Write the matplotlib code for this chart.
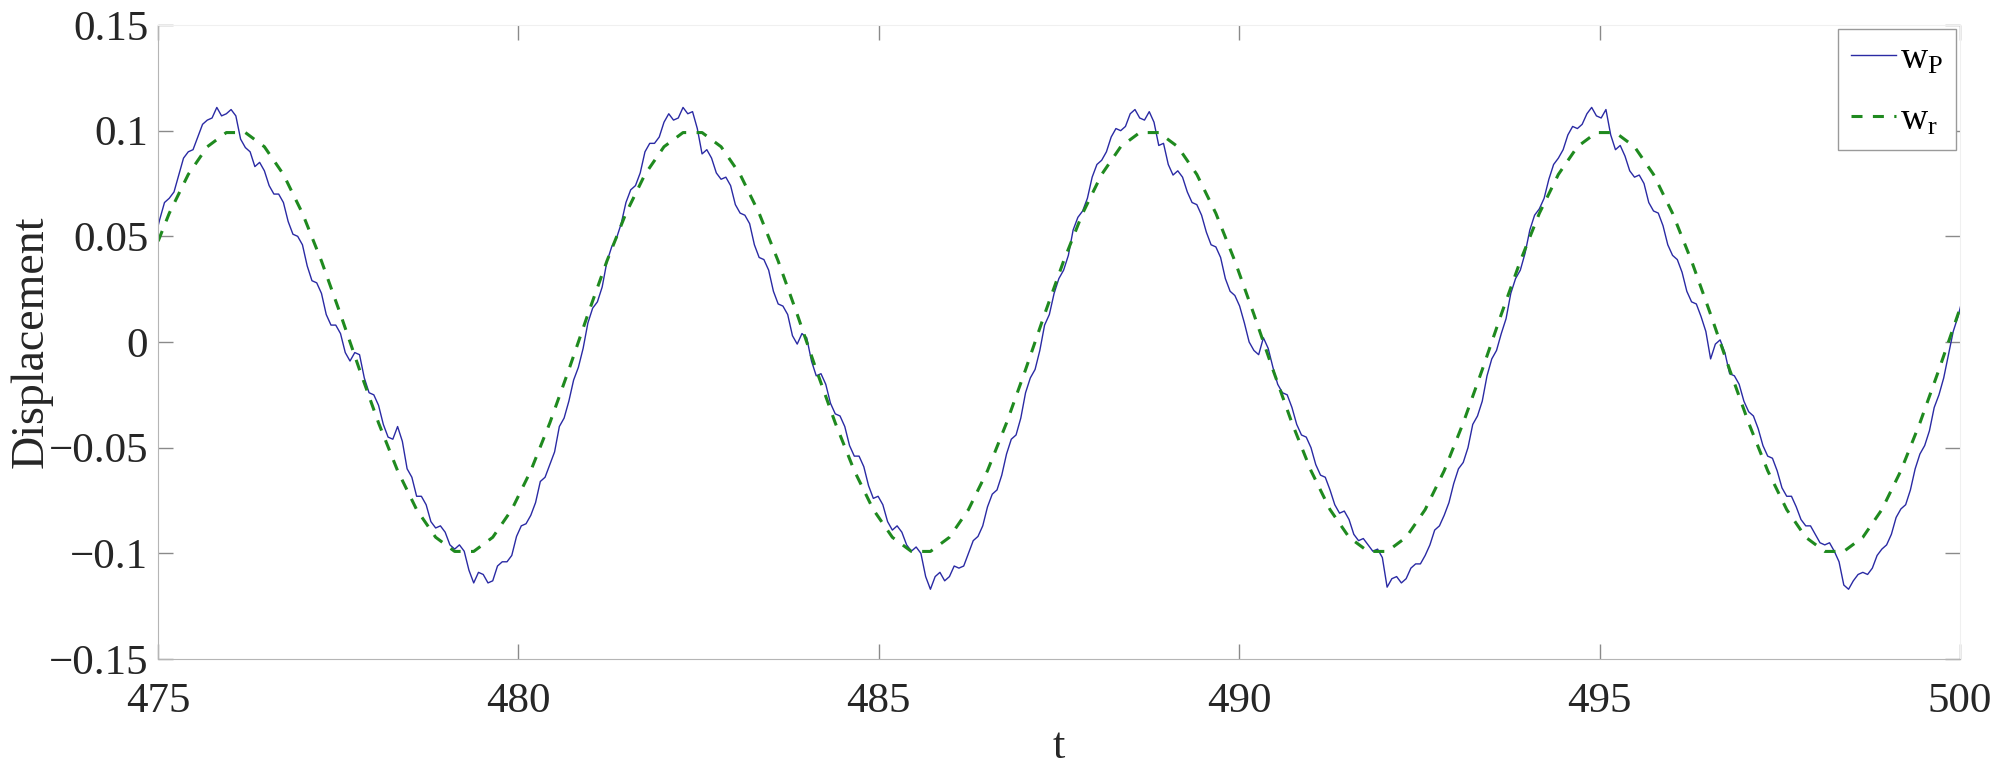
import numpy as np
import matplotlib
matplotlib.use('Agg')
import matplotlib.pyplot as plt

# tempos de amostragem (uniformes) e valores
t_ref = np.linspace(474.892, 500.236, 97)
w_ref = [0.0383, 0.0609, 0.0793, 0.0924, 0.0991,
         0.0991, 0.0924, 0.0793, 0.0609, 0.0383, 0.0131, -0.0131, -0.0383, -0.0609, -0.0793, -0.0924, -0.0991,
         -0.0991, -0.0924, -0.0793, -0.0609, -0.0383, -0.0131, 0.0131, 0.0383, 0.0609, 0.0793, 0.0924, 0.0991,
         0.0991, 0.0924, 0.0793, 0.0609, 0.0383, 0.0131, -0.0131, -0.0383, -0.0609, -0.0793, -0.0924, -0.0991,
         -0.0991, -0.0924, -0.0793, -0.0609, -0.0383, -0.0131, 0.0131, 0.0383, 0.0609, 0.0793, 0.0924, 0.0991,
         0.0991, 0.0924, 0.0793, 0.0609, 0.0383, 0.0131, -0.0131, -0.0383, -0.0609, -0.0793, -0.0924, -0.0991,
         -0.0991, -0.0924, -0.0793, -0.0609, -0.0383, -0.0131, 0.0131, 0.0383, 0.0609, 0.0793, 0.0924, 0.0991,
         0.0991, 0.0924, 0.0793, 0.0609, 0.0383, 0.0131, -0.0131, -0.0383, -0.0609, -0.0793, -0.0924, -0.0991,
         -0.0991, -0.0924, -0.0793, -0.0609, -0.0383, -0.0131, 0.0131, 0.0383]

# w_P nos instantes t_pos
t_pos = np.linspace(474.892, 500.104, 192)
w_pos = [0.044, 0.058, 0.068, 0.079, 0.090, 0.097, 0.105, 0.111, 0.108,
         # ciclo 1
         0.107, 0.092, 0.083, 0.081, 0.070, 0.066, 0.051, 0.046, 0.029, 0.023, 0.008, 0.004,
         -0.009, -0.006, -0.024, -0.030, -0.045, -0.040, -0.060, -0.073, -0.077, -0.088, -0.090, -0.098,
         -0.099, -0.114, -0.110, -0.113, -0.104, -0.101, -0.087, -0.082, -0.066, -0.058, -0.040, -0.028,
         -0.012, 0.009, 0.019, 0.038, 0.049, 0.066, 0.074, 0.090, 0.094, 0.104, 0.105, 0.111,
         # ciclo 2
         0.109, 0.089, 0.087, 0.077, 0.074, 0.061, 0.056, 0.040, 0.034, 0.018, 0.013, -0.001,
         0.002, -0.016, -0.020, -0.034, -0.040, -0.054, -0.059, -0.074, -0.077, -0.089, -0.090, -0.099,
         -0.100, -0.117, -0.109, -0.111, -0.107, -0.100, -0.092, -0.078, -0.070, -0.053, -0.044, -0.024,
         -0.013, 0.008, 0.023, 0.034, 0.053, 0.062, 0.078, 0.086, 0.097, 0.100, 0.108, 0.106,
         # ciclo 3
         0.109, 0.093, 0.084, 0.081, 0.071, 0.065, 0.052, 0.045, 0.030, 0.022, 0.009, -0.004,
         0.002, -0.012, -0.024, -0.031, -0.044, -0.050, -0.063, -0.070, -0.081, -0.084, -0.094, -0.096,
         -0.098, -0.116, -0.111, -0.112, -0.105, -0.101, -0.089, -0.082, -0.067, -0.057, -0.039, -0.028,
         -0.008, 0.004, 0.023, 0.034, 0.053, 0.063, 0.077, 0.087, 0.098, 0.101, 0.108, 0.107,
         # ciclo 4
         0.110, 0.091, 0.088, 0.078, 0.075, 0.062, 0.055, 0.041, 0.033, 0.019, 0.012, -0.008,
         0.001, -0.015, -0.020, -0.033, -0.041, -0.054, -0.061, -0.073, -0.078, -0.087, -0.091, -0.096,
         -0.099, -0.115, -0.113, -0.109, -0.107, -0.098, -0.091, -0.079, -0.070, -0.053, -0.042, -0.025,
         -0.006, 0.012, 0.027]

# w_P nos instantes intermediarios (ruido)
w_pos_mid = [0.049, 0.066, 0.071, 0.087, 0.091, 0.103, 0.106, 0.107, 0.110,
             0.096, 0.090, 0.085, 0.074, 0.070, 0.057, 0.050, 0.036, 0.028, 0.013, 0.008, -0.005,
             -0.005, -0.017, -0.025, -0.039, -0.046, -0.047, -0.064, -0.073, -0.085, -0.087, -0.096, -0.096,
             -0.108, -0.109, -0.114, -0.106, -0.104, -0.092, -0.086, -0.076, -0.064, -0.052, -0.036, -0.018,
             -0.003, 0.016, 0.026, 0.045, 0.056, 0.072, 0.080, 0.094, 0.097, 0.108, 0.106, 0.108,
             0.101, 0.091, 0.080, 0.078, 0.065, 0.060, 0.046, 0.039, 0.024, 0.017, 0.003, 0.004,
             -0.009, -0.015, -0.029, -0.035, -0.049, -0.054, -0.068, -0.073, -0.085, -0.087, -0.096, -0.097,
             -0.111, -0.111, -0.113, -0.106, -0.106, -0.094, -0.087, -0.072, -0.063, -0.046, -0.036, -0.017,
             -0.004, 0.013, 0.030, 0.041, 0.059, 0.068, 0.084, 0.090, 0.101, 0.102, 0.110, 0.105,
             0.104, 0.094, 0.079, 0.078, 0.066, 0.060, 0.046, 0.040, 0.024, 0.017, 0.000, -0.006,
             -0.003, -0.020, -0.025, -0.039, -0.045, -0.058, -0.064, -0.077, -0.080, -0.091, -0.093, -0.099,
             -0.102, -0.112, -0.114, -0.107, -0.105, -0.096, -0.087, -0.076, -0.060, -0.050, -0.035, -0.016,
             -0.004, 0.011, 0.030, 0.042, 0.060, 0.068, 0.084, 0.091, 0.102, 0.103, 0.111, 0.106,
             0.098, 0.093, 0.081, 0.079, 0.066, 0.061, 0.046, 0.039, 0.024, 0.018, 0.005, -0.001,
             -0.005, -0.016, -0.028, -0.035, -0.049, -0.055, -0.069, -0.073, -0.084, -0.087, -0.095, -0.095,
             -0.104, -0.117, -0.110, -0.110, -0.101, -0.096, -0.083, -0.077, -0.060, -0.049, -0.031, -0.017,
             0.005, 0.021]

x_ticks = [475, 480, 485, 490, 495, 500]
y_ticks = [-0.15, -0.1, -0.05, 0, 0.05, 0.1, 0.15]
y_labels = ['\u22120.15', '\u22120.1', '\u22120.05', '0', '0.05', '0.1', '0.15']

# junta as amostras principais e intermediarias
t_mid = (t_pos[:-1] + t_pos[1:]) / 2
t_all = np.empty(len(t_pos) + len(t_mid))
t_all[0::2] = t_pos
t_all[1::2] = t_mid
w_all = np.empty(len(t_all))
w_all[0::2] = w_pos
w_all[1::2] = w_pos_mid

plt.rcParams['font.family'] = 'Liberation Serif'
plt.rcParams['mathtext.fontset'] = 'custom'
plt.rcParams['mathtext.rm'] = 'Liberation Serif'

fig = plt.figure(figsize=(20.08, 7.64), dpi=100)
ax = fig.add_axes([158/2008, 105/764, 1802/2008, 634/764])

ax.plot(t_all, w_all, color='#2a2aa4', lw=1.0, label=r'$\mathrm{w_P}$')
ax.plot(t_ref, w_ref, color='#1f8a1f', lw=2.2, dashes=(3.6, 3.4), label=r'$\mathrm{w_r}$')

ax.set_xlim(475, 500)
ax.set_ylim(-0.15, 0.15)
ax.set_xticks(x_ticks)
ax.set_yticks(y_ticks)
ax.set_yticklabels(y_labels)
ax.tick_params(direction='in', length=11, width=1, color='#8a8a8a', labelsize=31,
               labelcolor='#262626', top=True, right=True)
ax.tick_params(axis='x', pad=17)
ax.tick_params(axis='y', pad=7)
for s in ['left', 'bottom']:
    ax.spines[s].set_color('#b5b5b5')
for s in ['top', 'right']:
    ax.spines[s].set_color('#f0f0f0')

ax.set_xlabel('t', fontsize=32, color='#262626', labelpad=4)
ax.set_ylabel('Displacement', fontsize=33, color='#262626', labelpad=-3)

leg = ax.legend(loc='upper right', fontsize=27, handlelength=1.2, handletextpad=0.1,
                borderaxespad=0.1, fancybox=False, framealpha=1, borderpad=0.35,
                labelspacing=0.7)
leg.get_frame().set_edgecolor('#9a9a9a')

fig.savefig('out.png', dpi=100)
